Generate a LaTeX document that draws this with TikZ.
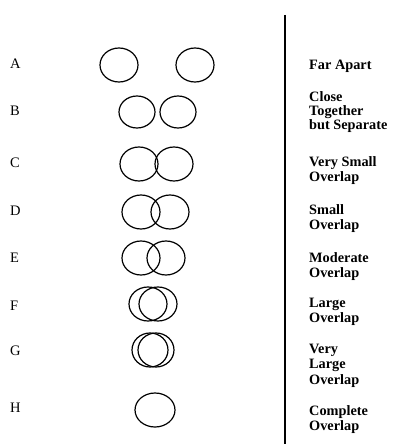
\documentclass[tikz,border=0pt]{standalone}
\usepackage{fontspec}
\setmainfont{Liberation Serif}
\usetikzlibrary{shapes.geometric}
\begin{document}
\begin{tikzpicture}[x=1pt,y=-1pt,
  ring/.style={draw, ellipse, line width=1.2pt, inner sep=0pt, minimum width=38pt, minimum height=34pt},
  lab/.style={anchor=base west, inner sep=0pt, font=\fontsize{14.5}{14.5}\selectfont},
  desc/.style={anchor=base west, inner sep=0pt, align=left, font=\fontsize{14.3}{15.5}\selectfont\bfseries}]
\useasboundingbox (0,0) rectangle (393,444);
% divider
\coordinate (top) at (285,15);
\coordinate (bot) at (285,444);
\draw[line width=1.1pt] (top) -- (bot);
% row labels
\node[lab] (lA) at (10,69) {A};
\node[lab] (lB) at (10,115) {B};
\node[lab] (lC) at (10,167) {C};
\node[lab] (lD) at (10,215) {D};
\node[lab] (lE) at (10,262) {E};
\node[lab] (lF) at (10,310) {F};
\node[lab] (lG) at (10,355) {G};
\node[lab] (lH) at (10,412) {H};
% circles
\node[ring] (a1) at (119,65) {};
\node[ring] (a2) at (195,65) {};
\node[ring, minimum width=36pt, minimum height=32pt] (b1) at (137,112) {};
\node[ring, minimum width=36pt, minimum height=32pt] (b2) at (178,112) {};
\node[ring] (c1) at (139,164) {};
\node[ring] (c2) at (174,164) {};
\node[ring] (d1) at (141,212) {};
\node[ring] (d2) at (170,212) {};
\node[ring] (e1) at (141,258) {};
\node[ring] (e2) at (166,258) {};
\node[ring] (f1) at (148,304) {};
\node[ring] (f2) at (158,304) {};
\node[ring, minimum width=36pt] (g1) at (150,350) {};
\node[ring, minimum width=36pt] (g2) at (156,350) {};
\node[ring, minimum width=40pt] (h1) at (155,410) {};
% descriptions (base = baseline of last line)
\node[desc] (tA) at (309,70) {Far Apart};
\node[desc, font=\fontsize{14.3}{14}\selectfont\bfseries] (tB) at (309,129) {Close\\Together\\but Separate};
\node[desc] (tC) at (309,181.5) {Very Small\\Overlap};
\node[desc] (tD) at (309,229.5) {Small\\Overlap};
\node[desc] (tE) at (309,277.5) {Moderate\\Overlap};
\node[desc] (tF) at (309,322.5) {Large\\Overlap};
\node[desc] (tG) at (309,384) {Very\\Large\\Overlap};
\node[desc] (tH) at (309,430.5) {Complete\\Overlap};
\end{tikzpicture}
\end{document}
